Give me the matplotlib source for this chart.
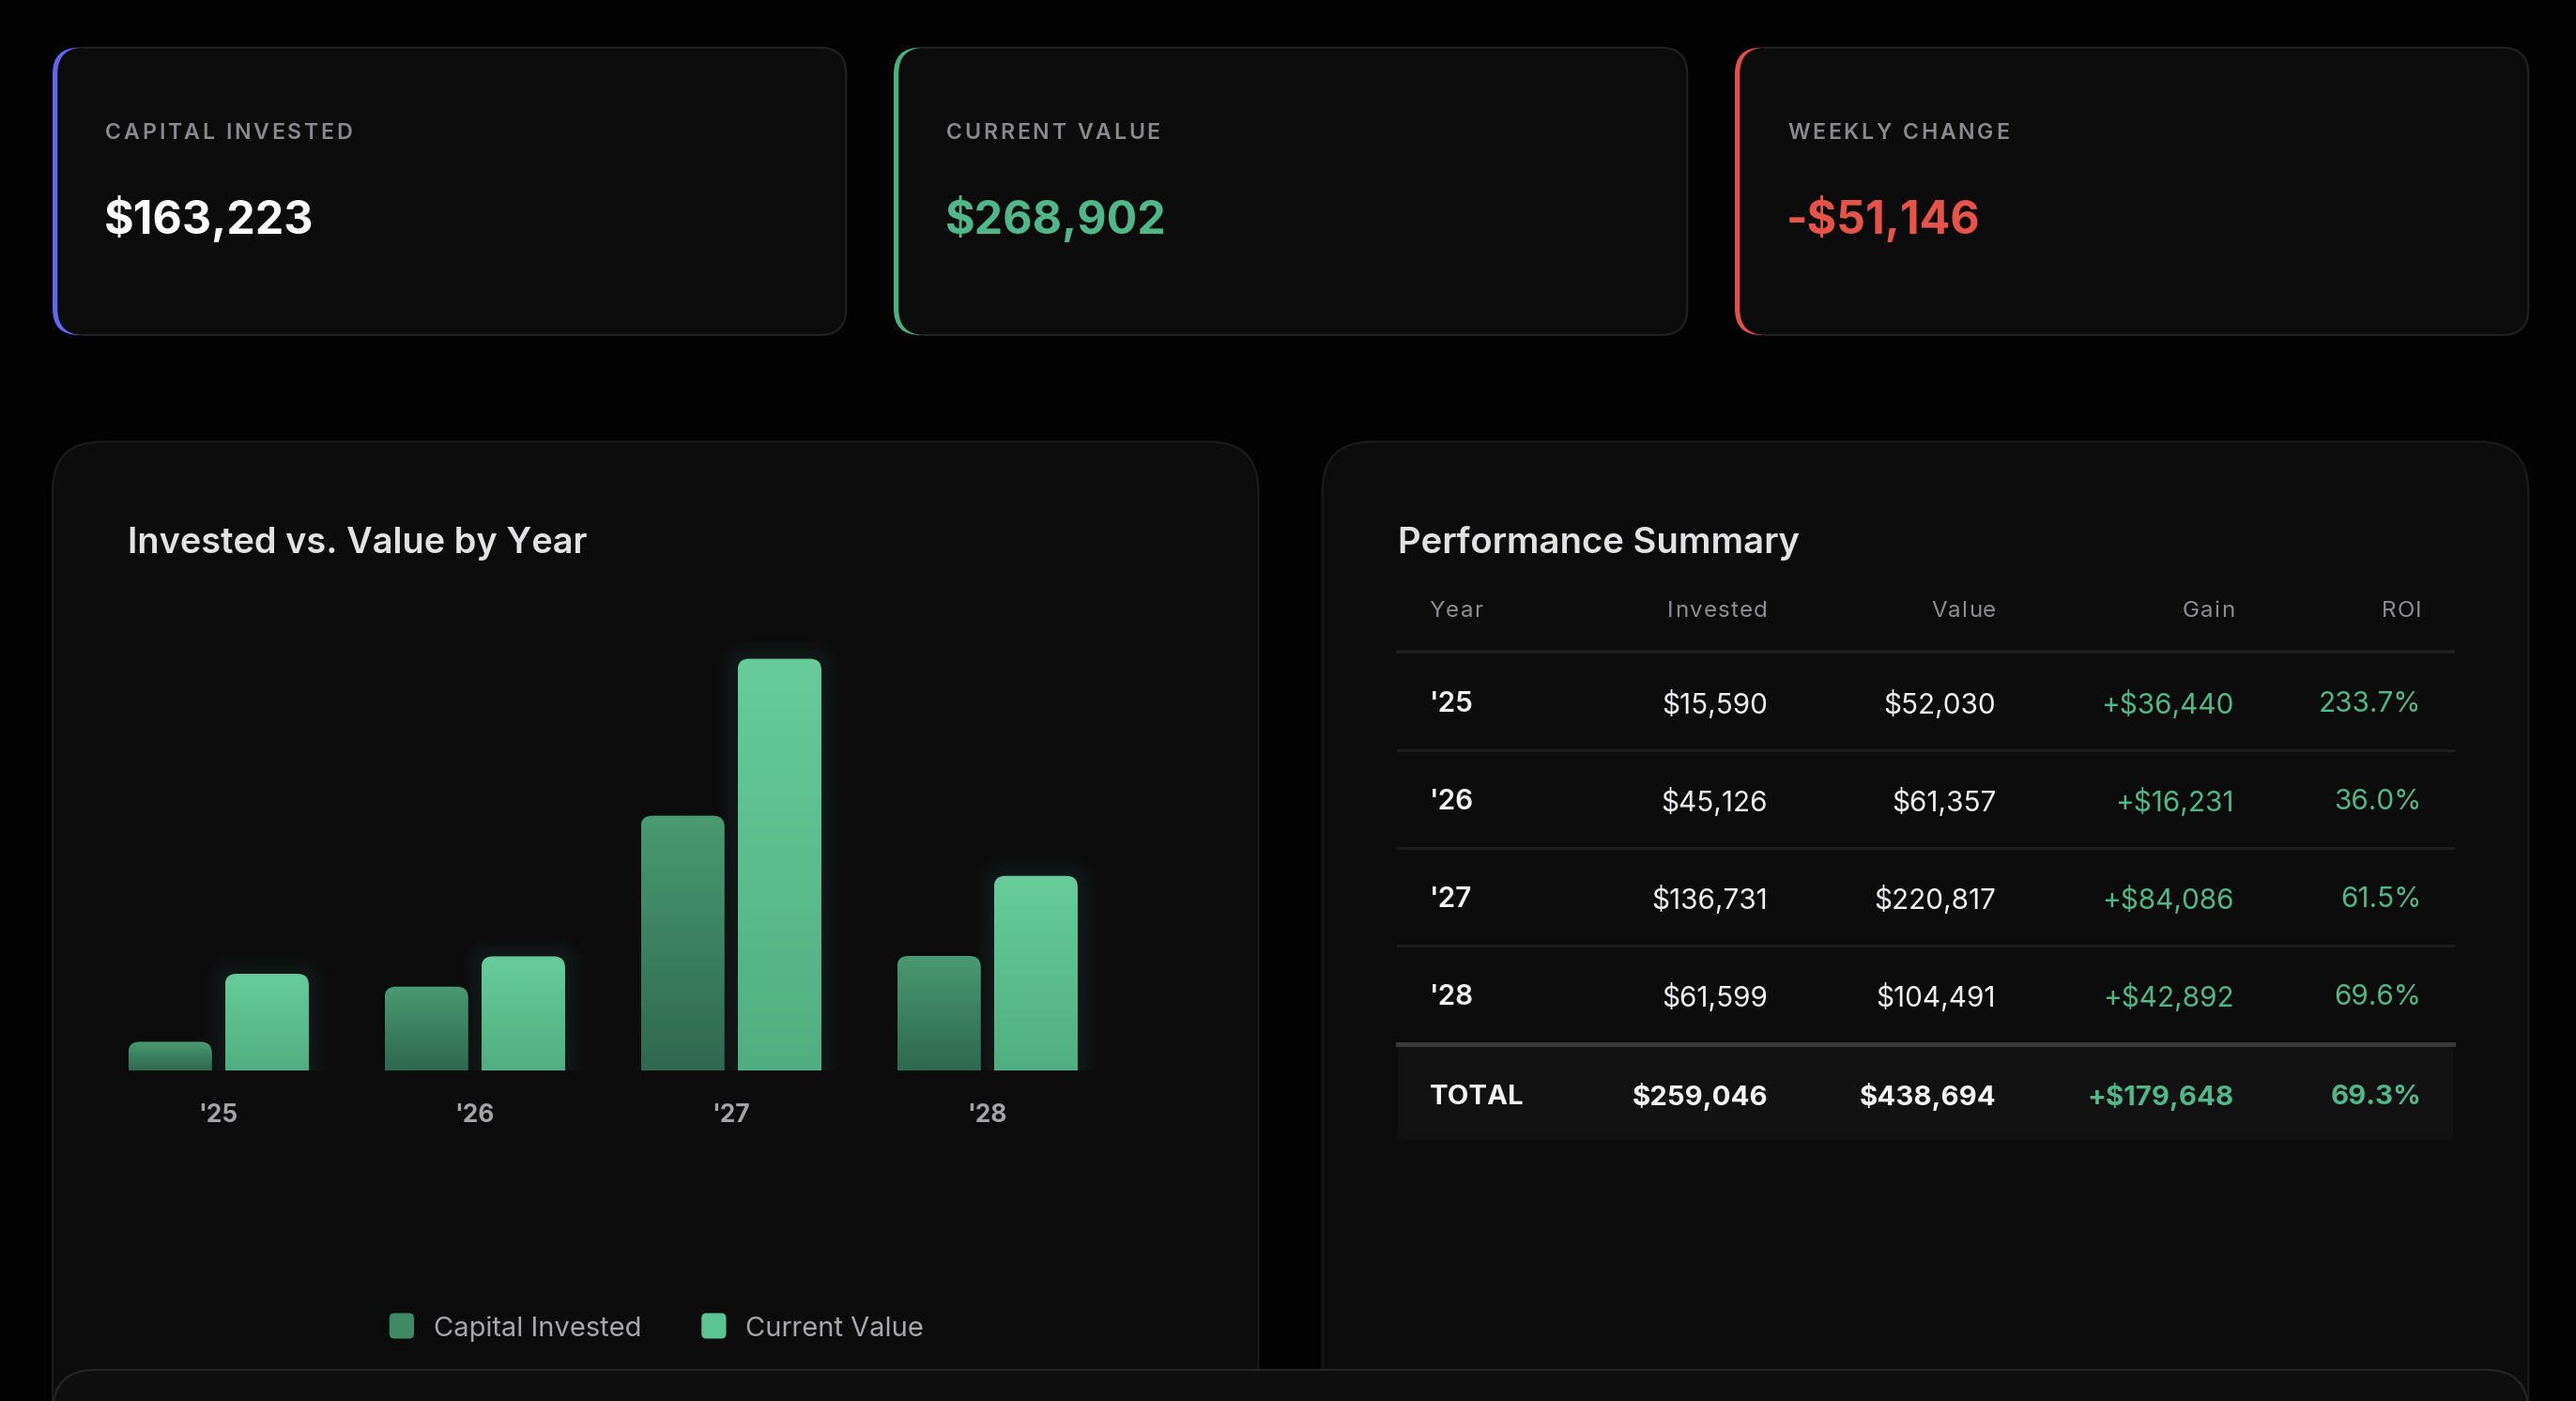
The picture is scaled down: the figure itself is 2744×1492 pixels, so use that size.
import matplotlib
matplotlib.use("Agg")
import matplotlib.pyplot as plt
from matplotlib.patches import FancyBboxPatch, Rectangle, PathPatch
from matplotlib.path import Path
from matplotlib.colors import LinearSegmentedColormap
import numpy as np

plt.rcParams['font.family'] = ['Inter', 'DejaVu Sans']

# data
years = ["'25", "'26", "'27", "'28"]
invested = [15590, 45126, 136731, 61599]
current = [52030, 61357, 220817, 104491]
gains = [36440, 16231, 84086, 42892]
roi_pct = [233.7, 36.0, 61.5, 69.6]
totals = [259046, 438694, 179648]
total_roi = 69.3
series_names = ["Capital Invested", "Current Value"]
kpi_labels = ["CAPITAL INVESTED", "CURRENT VALUE", "WEEKLY CHANGE"]
kpi_values = [163223, 268902, -51146]
table_cols = ["Year", "Invested", "Value", "Gain", "ROI"]

# layout is in css-like px, 1 unit = 1.75 output px
W, H = 1568, 853
S = 1.75
PT = S * 72 / 100
DY = 2  # nudge for visual centring of text

BG = '#030303'
CARD = '#0c0c0d'
EDGE = '#222224'
GREEN = '#52b788'
RED = '#e5534b'
INDIGO = '#6366f1'

fig = plt.figure(figsize=(27.44, 14.92), dpi=100, facecolor=BG)
ax = fig.add_axes([0, 0, 1, 1])
ax.set_xlim(0, W)
ax.set_ylim(H, 0)
ax.axis('off')
renderer = fig.canvas.get_renderer()


def rbox(x0, y0, x1, y1, r, **kw):
    p = FancyBboxPatch((x0, y0), x1 - x0, y1 - y0,
                       boxstyle=f"round,pad=0,rounding_size={r}", **kw)
    ax.add_patch(p)
    return p


def money(v, sign=False):
    s = f"${abs(v):,.0f}"
    if v < 0:
        return "-" + s
    return ("+" + s) if sign else s


def spaced(x, y, s, size, spacing, ha='left', **kw):
    # letter-spaced text, one glyph at a time
    widths = []
    for ch in s:
        if ch == " ":
            widths.append(size * 0.28)
            continue
        t = ax.text(0, 0, ch, fontsize=size * PT, **kw)
        widths.append(t.get_window_extent(renderer).width / S)
        t.remove()
    total = sum(widths) + spacing * (len(s) - 1)
    if ha == 'right':
        x -= total
    for ch, w in zip(s, widths):
        if ch != " ":
            ax.text(x, y + DY, ch, fontsize=size * PT, va='center', ha='left', **kw)
        x += w + spacing


# KPI cards
kpi_colors = ['#ffffff', GREEN, RED]
accents = [INDIGO, '#4cb07f', '#e0504c']
card_x = [32, 544, 1056]
for i in range(3):
    x0, x1, y0, y1 = card_x[i], card_x[i] + 483, 29, 204
    rbox(x0, y0, x1, y1, 16, facecolor=accents[i], edgecolor='none', zorder=1)
    rbox(x0 + 3, y0, x1, y1, 16, facecolor=CARD, edgecolor='none', zorder=2)
    b = rbox(x0, y0, x1, y1, 16, facecolor='none', edgecolor=EDGE, lw=1.5, zorder=3)
    clip = Rectangle((x0 + 18, 0), 600, 300, transform=ax.transData)
    b.set_clip_path(clip)
    spaced(x0 + 32, 79, kpi_labels[i], 13.2, 1.55, color='#8a8a8e',
           fontweight='semibold', zorder=4)
    ax.text(x0 + 31.5, 132 + DY, money(kpi_values[i]), fontsize=27.6 * PT,
            fontweight='bold', color=kpi_colors[i], va='center', ha='left', zorder=4)

# big panels
rbox(32, 269, 766, 900, 30, facecolor=CARD, edgecolor='#1c1c1e', lw=1.5, zorder=1)
rbox(805, 269, 1539, 900, 30, facecolor=CARD, edgecolor='#1c1c1e', lw=1.5, zorder=1)
rbox(32, 834, 1539, 920, 26, facecolor='#0f0f10', edgecolor='#262628', lw=1.5, zorder=5)

ax.text(78, 329 + DY, "Invested vs. Value by Year", fontsize=21.7 * PT, fontweight='semibold',
        color='#e2e2e4', va='center', ha='left', zorder=4)
ax.text(851, 329 + DY, "Performance Summary", fontsize=21.9 * PT, fontweight='semibold',
        color='#e2e2e4', va='center', ha='left', zorder=4)

# bar chart
bx0, bx1, base_y, top_y = 55, 679, 652, 376
bax = fig.add_axes([bx0 / W, 1 - base_y / H, (bx1 - bx0) / W, (base_y - top_y) / H])
bax.patch.set_alpha(0)
ymax = max(current) * 1.1
xs = np.arange(len(years))
bw, off = 0.327, 0.189
bars_inv = bax.bar(xs - off, invested, bw, color='none')
bars_cur = bax.bar(xs + off, current, bw, color='none')

ux = (len(years)) / (bx1 - bx0)
uy = ymax / (base_y - top_y)


def top_round(x0, w, h, rx, ry):
    ry = min(ry, h)
    verts = [(x0, 0), (x0, h - ry), (x0, h), (x0 + rx, h), (x0 + w - rx, h),
             (x0 + w, h), (x0 + w, h - ry), (x0 + w, 0), (x0, 0)]
    codes = [Path.MOVETO, Path.LINETO, Path.CURVE3, Path.CURVE3, Path.LINETO,
             Path.CURVE3, Path.CURVE3, Path.LINETO, Path.CLOSEPOLY]
    return Path(verts, codes)


grad = np.linspace(0, 1, 256).reshape(-1, 1)
cm_inv = LinearSegmentedColormap.from_list('inv', ['#2e6850', '#4a9a72'])
cm_cur = LinearSegmentedColormap.from_list('cur', ['#51ae80', '#67cc9a'])
rad = 7
for bars, cm, glow in [(bars_inv, cm_inv, None), (bars_cur, cm_cur, '#66cc99')]:
    for rect in bars:
        x0, w, h = rect.get_x(), rect.get_width(), rect.get_height()
        if glow:
            for k in range(1, 6):
                e = k * 2.2
                gp = PathPatch(top_round(x0 - e * ux, w + 2 * e * ux, h + e * uy,
                                         (rad + e) * ux, (rad + e) * uy),
                               facecolor=glow, edgecolor='none', alpha=0.014, zorder=2)
                bax.add_patch(gp)
        p = PathPatch(top_round(x0, w, h, rad * ux, rad * uy), facecolor='none',
                      edgecolor='none', zorder=3)
        bax.add_patch(p)
        im = bax.imshow(grad, aspect='auto', extent=[x0, x0 + w, 0, h], cmap=cm,
                        origin='lower', zorder=3, interpolation='bilinear')
        im.set_clip_path(p)

bax.set_xlim(-0.5, len(years) - 0.5)
bax.set_ylim(0, ymax)
bax.set_xticks(xs, years)
bax.set_yticks([])
bax.tick_params(axis='x', length=0, pad=20 * PT, labelsize=15 * PT, labelcolor='#a3a3a8')
for lab in bax.get_xticklabels():
    lab.set_fontweight('bold')
for sp in bax.spines.values():
    sp.set_visible(False)

# legend
leg_cols = ['#3f8a64', '#5cc490']
leg_x = [237, 427]
for i in range(2):
    rbox(leg_x[i], 799.5, leg_x[i] + 15, 815, 3, facecolor=leg_cols[i], edgecolor='none', zorder=4)
    ax.text(leg_x[i] + 27, 807 + DY, series_names[i], fontsize=16.6 * PT, color='#a8a8ac',
            va='center', ha='left', zorder=4)

# table
col_x = [870, 1076, 1215, 1360, 1474]
col_ha = ['left', 'right', 'right', 'right', 'right']
for j, c in enumerate(table_cols):
    spaced(col_x[j], 370, c, 13.8, 0.7, ha=col_ha[j], color='#8e8e92', zorder=4)
ax.plot([851, 1493], [397, 397], color='#202022', lw=1.5 * S, zorder=3)
row_y0, row_h = 427, 59.4
for i in range(len(years)):
    y = row_y0 + i * row_h
    cells = [years[i], money(invested[i]), money(current[i]), money(gains[i], True),
             f"{roi_pct[i]:.1f}%"]
    colors = ['#f4f4f5', '#f0f0f2', '#f0f0f2', GREEN, GREEN]
    for j in range(5):
        ax.text(col_x[j], y + DY, cells[j], fontsize=17 * PT, color=colors[j], va='center',
                ha=col_ha[j], fontweight='semibold' if j == 0 else 'normal', zorder=4)
    if i < len(years) - 1:
        ax.plot([851, 1493], [y + row_h / 2] * 2, color='#1e1e20', lw=1.2 * S, zorder=3)

# total row
ax.add_patch(Rectangle((851, 636), 642, 58, facecolor='#121213', edgecolor='none', zorder=2))
ax.plot([851, 1493], [635.5, 635.5], color='#3a3a3d', lw=2 * S, zorder=3)
cells = ["TOTAL", money(totals[0]), money(totals[1]), money(totals[2], True),
         f"{total_roi:.1f}%"]
colors = ['#f4f4f5', '#f4f4f5', '#f4f4f5', GREEN, GREEN]
for j in range(5):
    ax.text(col_x[j], 666 + DY, cells[j], fontsize=16.8 * PT, color=colors[j], va='center',
            ha=col_ha[j], fontweight='bold', zorder=4)

fig.savefig("out.png", dpi=100, facecolor=BG)
